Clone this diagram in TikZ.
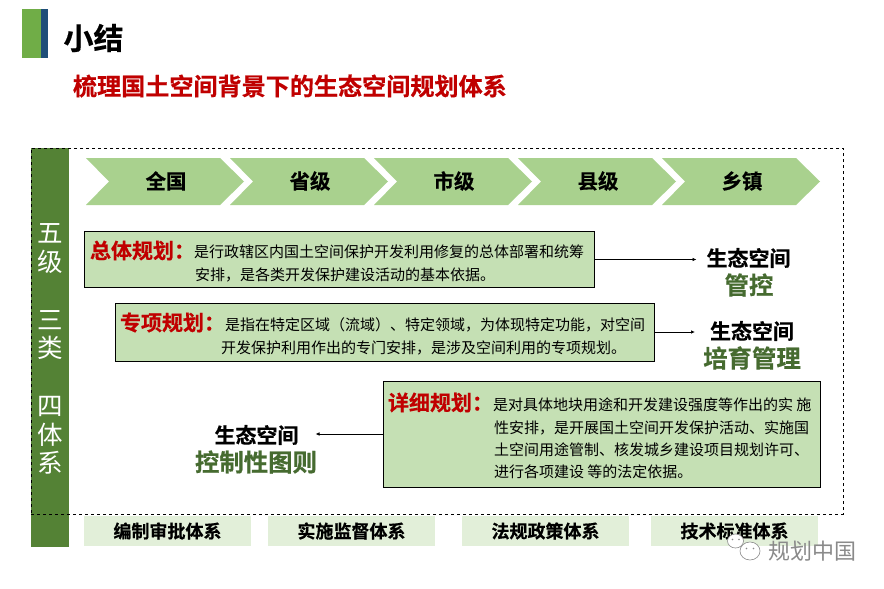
\documentclass[tikz,border=0pt]{standalone}
\usepackage{fontspec}
\setmainfont{Noto Sans CJK SC}
\newfontfamily\cjkb[FakeBold=0.5]{Noto Sans CJK SC Bold}
\usetikzlibrary{arrows.meta}
\definecolor{barg}{HTML}{70AD47}
\definecolor{barb}{HTML}{1F4E79}
\definecolor{colg}{HTML}{548235}
\definecolor{chev}{HTML}{A9D18E}
\definecolor{boxg}{HTML}{C5E0B4}
\definecolor{lowg}{HTML}{E2EFD9}
\definecolor{redt}{HTML}{C00000}
\definecolor{darkg}{HTML}{466B30}
\definecolor{wm}{HTML}{8A8A8A}
\newcommand{\fs}[1]{\fontsize{#1}{#1}\selectfont}
\tikzset{
  x=1pt,y=-1pt,
  txt/.style={inner sep=0pt,outer sep=0pt},
  chevlab/.style={txt,font=\cjkb\fs{20.4}},
  planbox/.style={draw=black,line width=0.9pt,fill=boxg,inner sep=0pt},
  redlab/.style={txt,anchor=west,text=redt,font=\cjkb\fs{21}},
  body/.style={txt,anchor=west,font=\fs{15}},
  sidechar/.style={txt,text=white,font=\fs{25.5}},
  lowbox/.style={fill=lowg,inner sep=0pt,minimum width=167pt,minimum height=30pt},
  lowlab/.style={font=\cjkb\fs{18}},
  headk/.style={txt,font=\cjkb\fs{21}},
  headg/.style={txt,text=darkg,font=\cjkb\fs{24.4}},
  link/.style={line width=0.7pt,-{Latex[length=4pt,width=3.5pt]}},
  bubble/.style={draw=wm,fill=white,line width=0.6pt}
}
\begin{document}
\begin{tikzpicture}
\useasboundingbox (0,0) rectangle (884,589);
\fill[white] (0,0) rectangle (884,589);
% header
\fill[barg] (22,9) rectangle (41,58);
\fill[barb] (41,9) rectangle (48,58);
\node[txt,anchor=west,font=\cjkb\fs{30}] (ttl) at (63.5,38) {小结};
\node[txt,anchor=west,text=redt,font=\cjkb\fs{24.1}] (sub) at (73,86) {梳理国土空间背景下的生态空间规划体系};
% frame and side column
\fill[colg] (31,148) rectangle (69,547);
\node[draw=black,dashed,line width=0.7pt,inner sep=0pt,minimum width=812pt,minimum height=366pt] (frame) at (437,331) {};
\foreach \c/\y in {五/233,级/262,三/320,类/348,四/406,体/435,系/463}
  \node[sidechar] (side\y) at (50,\y) {\c};
% chevrons
\foreach \o/\lab/\name in {0/全国/a,144/省级/b,288/市级/c,432/县级/d,576/乡镇/e}{
  \fill[chev] (86+\o,158) -- (220+\o,158) -- (244+\o,181.5) -- (220+\o,205) -- (86+\o,205) -- (109+\o,181.5) -- cycle;
  \node[chevlab] (chev\name) at (166+\o,181) {\lab};
}
% plan boxes
\node[planbox,minimum width=510pt,minimum height=56pt] (b1) at (339.5,259.5) {};
\node[planbox,minimum width=539pt,minimum height=58pt] (b2) at (385,332) {};
\node[planbox,minimum width=437.5pt,minimum height=106pt] (b3) at (601.7,434) {};
\node[redlab] (r1) at (90,250.5) {总体规划：};
\node[body] (t1a) at (194,252) {是行政辖区内国土空间保护开发利用修复的总体部署和统筹};
\node[body] (t1b) at (195,275) {安排，是各类开发保护建设活动的基本依据。};
\node[redlab] (r2) at (120,322.5) {专项规划：};
\node[body] (t2a) at (225,325) {是指在特定区域（流域）、特定领域，为体现特定功能，对空间};
\node[body] (t2b) at (221,348) {开发保护利用作出的专门安排，是涉及空间利用的专项规划。};
\node[redlab] (r3) at (388,402.5) {详细规划：};
\node[body] (t3a) at (493,405) {是对具体地块用途和开发建设强度等作出的实 施};
\node[body] (t3b) at (494,428) {性安排，是开展国土空间开发保护活动、实施国};
\node[body] (t3c) at (494,450) {土空间用途管制、核发城乡建设项目规划许可、};
\node[body] (t3d) at (494,472) {进行各项建设 等的法定依据。};
% outcomes
\node[headk] (h1) at (748.5,258) {生态空间};
\node[headg] (g1) at (749,285) {管控};
\node[headk] (h2) at (752,331) {生态空间};
\node[headg] (g2) at (752,358) {培育管理};
\node[headk] (h3) at (256.5,435) {生态空间};
\node[headg] (g3) at (256,462) {控制性图则};
% connectors
\draw[link,shorten >=10pt] (b1.east) -- (h1.west |- b1.east);
\draw[link,shorten >=15pt] (b2.east) -- (h2.west |- b2.east);
\draw[link,shorten >=17pt] (b3.west) -- (h3.east |- b3.west);
% lower row
\foreach \xc/\lab/\name in {167.5/编制审批体系/p,351.5/实施监督体系/q,545.5/法规政策体系/r,734.5/技术标准体系/s}{
  \node[lowbox] (low\name) at (\xc,531) {};
  \node[lowlab] (lab\name) at (\xc,531) {\lab};
}
% watermark
\draw[bubble] (735.5,541) ellipse (8pt and 7pt);
\draw[bubble] (750,551) ellipse (10pt and 9pt);
\fill[wm] (732.5,539.5) circle (0.8pt) (739,539.5) circle (0.8pt) (746.5,548.5) circle (0.9pt) (753.5,548.5) circle (0.9pt);
\node[txt,anchor=west,text=wm,font=\fs{22}] (wmk) at (768,551) {规划中国};
\end{tikzpicture}
\end{document}
